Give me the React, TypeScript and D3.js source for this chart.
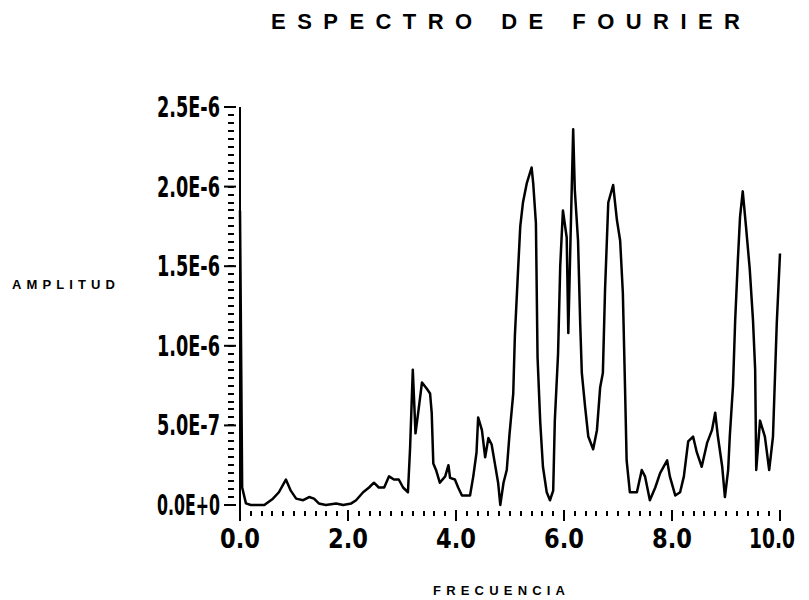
import React, { useEffect, useRef } from 'react';
import * as d3 from 'd3';

// frequency (x) and amplitude (in units of 1E-6)
const freq = [0, 0.04, 0.11, 0.2, 0.3, 0.45, 0.61, 0.72, 0.85, 0.94, 1.04, 1.17, 1.28, 1.37, 1.46, 1.59, 1.78, 1.91,
  2.06, 2.15, 2.28, 2.39, 2.48, 2.57, 2.67, 2.76, 2.85, 2.94, 3.02, 3.11, 3.15, 3.2, 3.25, 3.3, 3.37, 3.46, 3.52,
  3.55, 3.58, 3.63, 3.7, 3.8, 3.86, 3.89, 3.98, 4.04, 4.11, 4.26, 4.32, 4.38, 4.41, 4.48, 4.54, 4.6, 4.66, 4.72,
  4.78, 4.82, 4.88, 4.94, 4.99, 5.06, 5.09, 5.15, 5.19, 5.24, 5.31, 5.4, 5.43, 5.48, 5.51, 5.56, 5.61, 5.68, 5.74,
  5.8, 5.83, 5.89, 5.93, 5.98, 6.05, 6.08, 6.12, 6.17, 6.2, 6.26, 6.3, 6.33, 6.39, 6.45, 6.54, 6.61, 6.67, 6.72,
  6.76, 6.82, 6.91, 6.98, 7.04, 7.09, 7.13, 7.16, 7.22, 7.35, 7.44, 7.5, 7.59, 7.69, 7.78, 7.91, 7.96, 8.06, 8.15,
  8.22, 8.3, 8.39, 8.46, 8.55, 8.65, 8.74, 8.8, 8.85, 8.93, 8.98, 9.04, 9.07, 9.13, 9.17, 9.22, 9.26, 9.31, 9.37,
  9.44, 9.5, 9.54, 9.56, 9.63, 9.72, 9.8, 9.87, 9.94, 10.0];
const amp = [1.85, 0.11, 0.01, 0, 0, 0, 0.04, 0.08, 0.16, 0.09, 0.04, 0.03, 0.05, 0.04, 0.01, 0, 0.01, 0,
  0.01, 0.03, 0.08, 0.11, 0.14, 0.11, 0.11, 0.18, 0.16, 0.16, 0.11, 0.08, 0.36, 0.85, 0.45, 0.58, 0.77, 0.73, 0.7,
  0.58, 0.26, 0.22, 0.14, 0.18, 0.25, 0.17, 0.16, 0.11, 0.06, 0.06, 0.18, 0.33, 0.55, 0.47, 0.3, 0.42, 0.38, 0.26,
  0.14, 0, 0.14, 0.22, 0.44, 0.7, 1.06, 1.48, 1.75, 1.9, 2.02, 2.12, 2.02, 1.77, 0.93, 0.52, 0.24, 0.08, 0.03,
  0.09, 0.53, 0.95, 1.5, 1.85, 1.68, 1.08, 1.66, 2.36, 1.98, 1.66, 1.14, 0.83, 0.62, 0.43, 0.35, 0.47, 0.74, 0.83,
  1.35, 1.9, 2.01, 1.79, 1.66, 1.33, 0.74, 0.28, 0.08, 0.08, 0.22, 0.18, 0.03, 0.11, 0.2, 0.28, 0.18, 0.06, 0.08,
  0.18, 0.4, 0.43, 0.33, 0.24, 0.39, 0.47, 0.58, 0.43, 0.24, 0.05, 0.22, 0.43, 0.75, 1.16, 1.54, 1.81, 1.97, 1.75,
  1.48, 1.16, 0.85, 0.22, 0.53, 0.43, 0.22, 0.43, 1.14, 1.58];

const xTicks = [0, 2, 4, 6, 8, 10];
const xTickLabels = ['0.0', '2.0', '4.0', '6.0', '8.0', '10.0'];
const yTicks = [0, 0.5e-6, 1e-6, 1.5e-6, 2e-6, 2.5e-6];
const yTickLabels = ['0.0E+0', '5.0E-7', '1.0E-6', '1.5E-6', '2.0E-6', '2.5E-6'];

function App() {
  const ref = useRef<SVGSVGElement>(null);

  useEffect(() => {
    const svg = d3.select(ref.current);
    svg.selectAll('*').remove();

    const x = d3.scaleLinear().domain([0, 10]).range([240, 780]);
    const y = d3.scaleLinear().domain([0, 2.5e-6]).range([505, 107]);
    const tickFont = '"Liberation Sans Narrow", "DejaVu Sans Condensed", sans-serif';
    const labelFont = '"Liberation Sans", sans-serif';

    // title
    svg.append('text')
      .attr('x', 271).attr('y', 29)
      .attr('textLength', 469).attr('lengthAdjust', 'spacing')
      .attr('font-family', labelFont).attr('font-size', 22).attr('font-weight', 'bold')
      .text('ESPECTRO DE FOURIER');

    svg.append('text')
      .attr('x', 12).attr('y', 289)
      .attr('textLength', 103).attr('lengthAdjust', 'spacing')
      .attr('font-family', labelFont).attr('font-size', 13).attr('font-weight', 'bold')
      .text('AMPLITUD');

    svg.append('text')
      .attr('x', 433).attr('y', 595)
      .attr('textLength', 132).attr('lengthAdjust', 'spacing')
      .attr('font-family', labelFont).attr('font-size', 13).attr('font-weight', 'bold')
      .text('FRECUENCIA');

    // y axis line
    svg.append('line')
      .attr('x1', x(0)).attr('x2', x(0))
      .attr('y1', y(2.5e-6)).attr('y2', y(0) + 5)
      .attr('stroke', 'black').attr('stroke-width', 2);

    // y minor + major ticks
    const yMinor = d3.range(0, 2.5e-6 + 1e-12, 0.05e-6);
    svg.append('g').selectAll('line')
      .data(yMinor)
      .enter().append('line')
      .attr('x1', 228).attr('x2', 234)
      .attr('y1', d => Math.round(y(d))).attr('y2', d => Math.round(y(d)))
      .attr('stroke', 'black').attr('stroke-width', 2);

    svg.append('g').selectAll('line')
      .data(yTicks)
      .enter().append('line')
      .attr('x1', 224).attr('x2', 236)
      .attr('y1', d => y(d)).attr('y2', d => y(d))
      .attr('stroke', 'black').attr('stroke-width', 2);

    svg.append('g').selectAll('text')
      .data(yTicks)
      .enter().append('text')
      .attr('x', 220)
      .attr('y', d => y(d) + 10)
      .attr('text-anchor', 'end')
      .attr('textLength', 63).attr('lengthAdjust', 'spacingAndGlyphs')
      .attr('font-family', tickFont).attr('font-size', 29).attr('font-weight', 'bold')
      .text((d, i) => yTickLabels[i]);

    // x minor + major ticks (no baseline drawn)
    const xMinor = d3.range(0, 10.001, 0.2);
    svg.append('g').selectAll('line')
      .data(xMinor)
      .enter().append('line')
      .attr('x1', d => Math.round(x(d))).attr('x2', d => Math.round(x(d)))
      .attr('y1', 511).attr('y2', 516)
      .attr('stroke', 'black').attr('stroke-width', 2);

    svg.append('g').selectAll('line')
      .data(xTicks)
      .enter().append('line')
      .attr('x1', d => x(d)).attr('x2', d => x(d))
      .attr('y1', 510).attr('y2', 521)
      .attr('stroke', 'black').attr('stroke-width', 2);

    svg.append('g').selectAll('text')
      .data(xTicks)
      .enter().append('text')
      .attr('x', (d, i) => x(d) - (xTickLabels[i].length > 3 ? 8 : 0))
      .attr('y', 548)
      .attr('text-anchor', 'middle')
      .attr('textLength', (d, i) => xTickLabels[i].length > 3 ? 46 : 40)
      .attr('lengthAdjust', 'spacingAndGlyphs')
      .attr('font-family', tickFont).attr('font-size', 27).attr('font-weight', 'bold')
      .text((d, i) => xTickLabels[i]);

    // spectrum line
    const pts = freq.map((f, i) => [f, amp[i] * 1e-6] as [number, number]);
    const line = d3.line<[number, number]>()
      .x(d => x(d[0]))
      .y(d => y(d[1]));

    svg.append('path')
      .datum(pts)
      .attr('d', line)
      .attr('fill', 'none')
      .attr('stroke', 'black')
      .attr('stroke-width', 2.5)
      .attr('stroke-linejoin', 'round');
  }, []);

  return (
    <svg ref={ref} width={809} height={600}
      style={{ position: 'absolute', left: 0, top: 0, background: 'white' }} />
  );
}

export default App;
